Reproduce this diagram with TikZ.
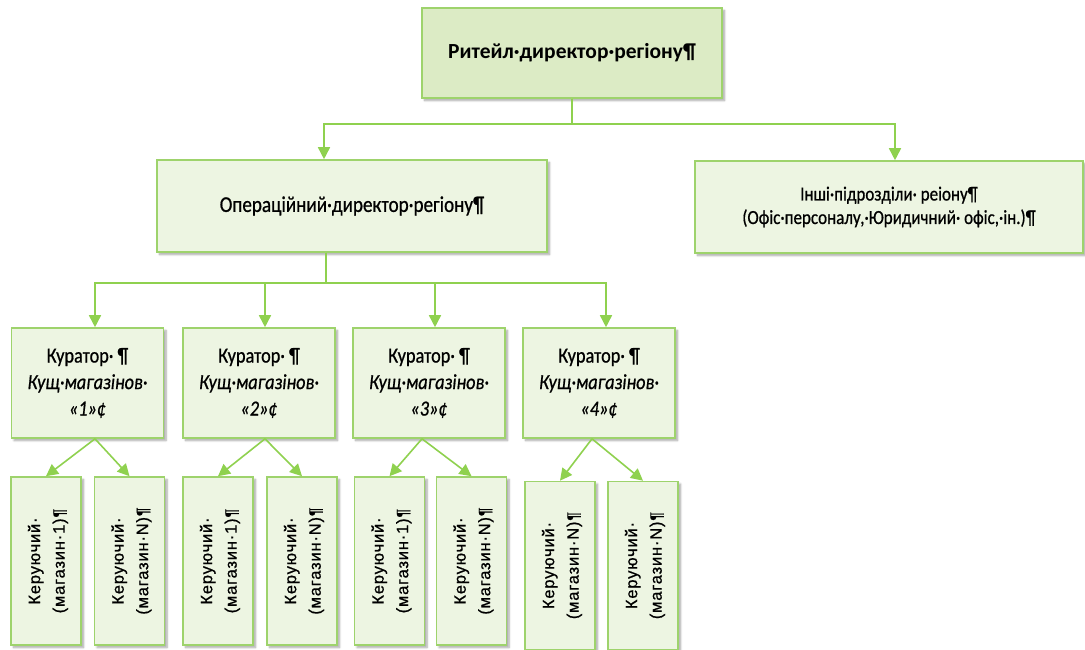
\documentclass[tikz,border=0pt]{standalone}
\usepackage{fontspec}
\setmainfont{Carlito}
\newfontfamily\narrowf[FakeStretch=0.85,FakeBold=0.7]{Carlito}
\newfontfamily\arialf[LetterSpace=5,FakeBold=0.7]{Liberation Sans}
\usetikzlibrary{arrows.meta,shadows.blur}

\definecolor{linkgreen}{HTML}{8FD14F}
\definecolor{edgegreen}{HTML}{9ED36C}
\definecolor{headfill}{HTML}{DCEBC5}
\definecolor{boxfill}{HTML}{EDF5E2}

\tikzset{
  box/.style={draw=edgegreen, line width=1.6pt, fill=boxfill, inner sep=0pt,
    align=center, text=black,
    blur shadow={shadow xshift=2.5pt, shadow yshift=-2.5pt,
      shadow blur radius=2pt, shadow blur steps=6, shadow opacity=35}},
  headbox/.style={box, fill=headfill},
  curbox/.style={box, minimum width=152pt, minimum height=110pt,
    font=\narrowf\fontsize{21.5}{26.5}\selectfont},
  shopbox/.style={box, minimum width=70pt, minimum height=168pt},
  shoptext/.style={rotate=90, align=center, font=\arialf\fontsize{16.5}{24.5}\selectfont},
  link/.style={draw=linkgreen, line width=1.6pt,
    -{Triangle[width=12pt,length=12pt]}},
}

\begin{document}
\begin{tikzpicture}[x=1pt,y=-1pt]
\useasboundingbox (0,0) rectangle (1085,649);

% top level
\node[headbox, minimum width=300pt, minimum height=90pt,
  font=\bfseries\fontsize{21.5}{24}\selectfont] (top) at (572,53) {Ритейл·директор·регіону¶};

% second level
\node[box, minimum width=390pt, minimum height=92pt,
  font=\narrowf\fontsize{22.5}{26}\selectfont] (ops) at (352,206) {Операційний·директор·регіону¶};
\node[box, minimum width=388pt, minimum height=92pt,
  font=\narrowf\fontsize{20}{23.5}\selectfont] (other) at (889,207)
  {Інші·підрозділи· реіону¶\\(Офіс·персоналу,·Юридичний· офіс,·ін.)¶};

% curators
\node[curbox] (c1) at (87.5,383) {Куратор· ¶\\\textit{Кущ·магазінов·}\\\textit{«1»¢}};
\node[curbox] (c2) at (259,383) {Куратор· ¶\\\textit{Кущ·магазінов·}\\\textit{«2»¢}};
\node[curbox] (c3) at (429,383) {Куратор· ¶\\\textit{Кущ·магазінов·}\\\textit{«3»¢}};
\node[curbox] (c4) at (599,383) {Куратор· ¶\\\textit{Кущ·магазінов·}\\\textit{«4»¢}};

% store managers
\node[shopbox] (s1a) at (46,561)  {}; \node[shoptext] at ([xshift=2pt]s1a) {Керуючий·\\(магазин·1)¶};
\node[shopbox] (s1b) at (129.5,561) {}; \node[shoptext] at ([xshift=2pt]s1b) {Керуючий·\\(магазин·N)¶};
\node[shopbox] (s2a) at (218,561) {}; \node[shoptext] at ([xshift=2pt]s2a) {Керуючий·\\(магазин·1)¶};
\node[shopbox] (s2b) at (302,561) {}; \node[shoptext] at ([xshift=2pt]s2b) {Керуючий·\\(магазин·N)¶};
\node[shopbox] (s3a) at (389.5,561) {}; \node[shoptext] at ([xshift=2pt]s3a) {Керуючий·\\(магазин·1)¶};
\node[shopbox] (s3b) at (471.5,561) {}; \node[shoptext] at ([xshift=2pt]s3b) {Керуючий·\\(магазин·N)¶};
\node[shopbox] (s4a) at (560,565.5) {}; \node[shoptext] at ([xshift=2pt]s4a) {Керуючий·\\(магазин·N)¶};
\node[shopbox] (s4b) at (643,565.5) {}; \node[shoptext] at ([xshift=2pt]s4b) {Керуючий·\\(магазин·N)¶};

% connectors
\draw[link] (top.south) -- ++(0,25) -| ([xshift=-28pt]ops.north);
\draw[link] (top.south) -- ++(0,25) -| ([xshift=6pt]other.north);

\foreach \c/\dx in {c1/7.5,c2/6,c3/6,c4/7}
  \draw[link] ([xshift=-26pt]ops.south) -- ++(0,30) -| ([xshift=\dx pt]\c.north);

\foreach \c/\a/\b/\dx in {c1/s1a/s1b/7.5,c2/s2a/s2b/6,c3/s3a/s3b/-7,c4/s4a/s4b/-7}{
  \draw[link] ([xshift=\dx pt]\c.south) -- (\a.north);
  \draw[link] ([xshift=\dx pt]\c.south) -- (\b.north);
}
\end{tikzpicture}
\end{document}
